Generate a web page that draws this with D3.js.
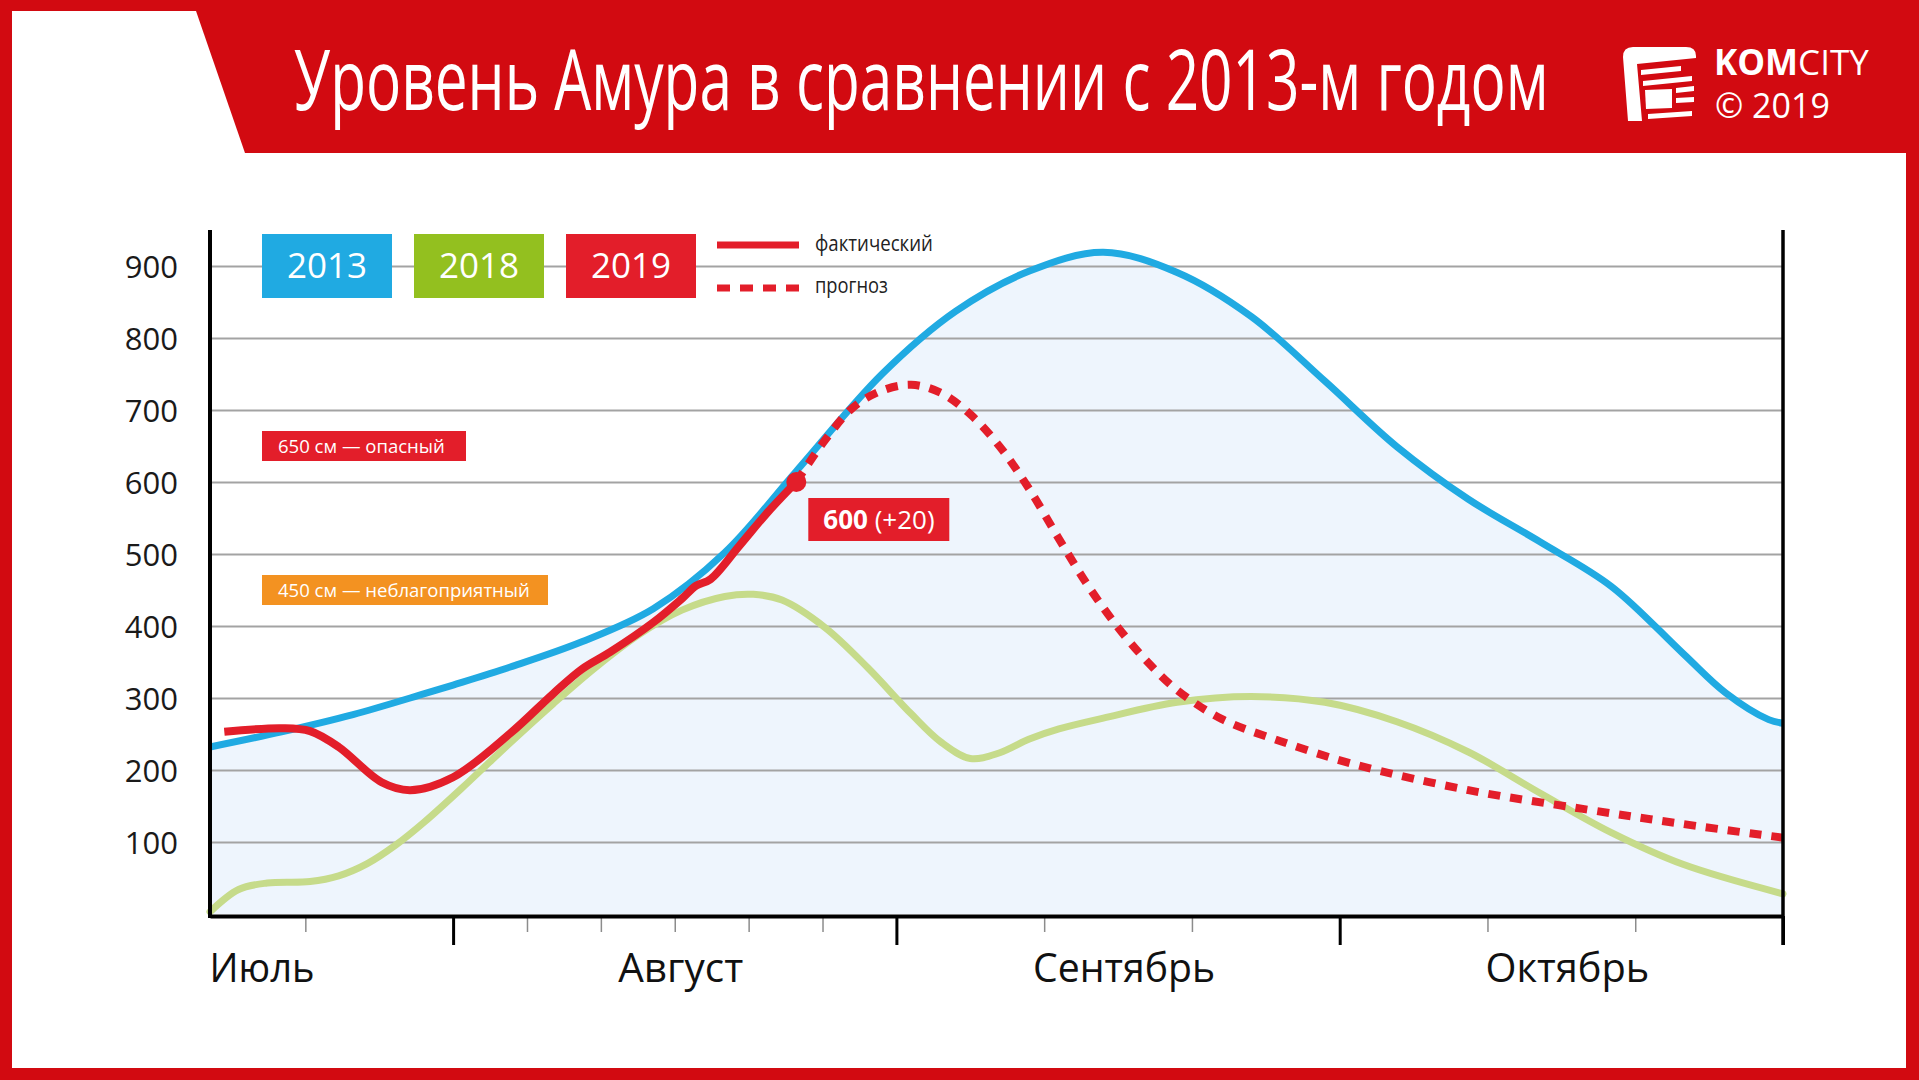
<!DOCTYPE html>
<html>
<head>
<meta charset="utf-8">
<title>Уровень Амура в сравнении с 2013-м годом</title>
<script src="https://d3js.org/d3.v7.min.js"></script>
<style>
  body { margin: 0; background: #fff; }
  svg text { font-family: "Open Sans", sans-serif; }
</style>
</head>
<body>
<svg id="chart" width="1919" height="1080"></svg>
<script>
// ---- data (dates are DD.MM, levels in cm) ----
var dates2013 = ["15.07","20.07","25.07","30.07","01.08","05.08","10.08","15.08","20.08","25.08","31.08",
                 "05.09","10.09","15.09","20.09","25.09","30.09","05.10","10.10","15.10","20.10","25.10","28.10","31.10","01.11"];
var level2013 = [232,253,277,306,318,343,378,424,502,615,750,
                 837,893,919,891,830,740,649,576,517,455,362,307,270,265];

var dates2018 = ["15.07","17.07","19.07","22.07","24.07","26.07","28.07","30.07","02.08","05.08","08.08","11.08","14.08","17.08","20.08","22.08","24.08","27.08","30.08",
                 "02.09","04.09","06.09","08.09","10.09","12.09","15.09","20.09","25.09","30.09","05.10","10.10","15.10","20.10","25.10","01.11"];
var level2018 = [3,34,43,45,53,70,96,128,182,238,292,343,388,422,441,444,436,398,342,
                 278,239,216,224,243,257,272,294,302,294,267,225,168,113,69,28];

var dates2019 = ["16.07","20.07","22.07","24.07","27.07","29.07","01.08","05.08","08.08","10.08","12.08","15.08","17.08","18.08","19.08","21.08","23.08","25.08"];
var level2019 = [253,258,254,232,183,172,190,251,306,340,364,405,438,456,465,511,558,600];

var datesForecast = ["25.08","27.08","29.08","31.08","02.09","04.09","06.09","08.09","10.09","12.09","14.09","16.09","18.09","20.09",
                     "23.09","27.09","02.10","10.10","18.10","25.10","01.11"];
var levelForecast = [600,658,704,727,735,724,694,649,590,521,455,398,350,311,
                     271,240,208,172,146,125,106];

var yTicks = [100,200,300,400,500,600,700,800,900];
var months = ["Июль","Август","Сентябрь","Октябрь"];
var minorTicks = [-1/3, 1/6, 2/6, 3/6, 4/6, 5/6, 1 + 1/3, 1 + 2/3, 2 + 1/3, 2 + 2/3]; // in month units from 1 Aug
var years = ["2013","2018","2019"];
var dangerLevels = [650, 450];
var dangerLabels = ["650 см — опасный", "450 см — неблагоприятный"];
var lastValue = "600", lastChange = "(+20)";

var RED = "#d20a11", BLUE = "#20aae2", GREEN = "#c6db8a", RED2 = "#e31e2a", ORANGE = "#f39221";

// month position: 0 = 1 Aug, 1 = 1 Sep, ... every month same width as on the picture
var monthDays = {7: 31, 8: 31, 9: 30, 10: 31, 11: 30};
function monthPos(s) {
  var p = s.split(".");
  var d = +p[0], m = +p[1];
  return (m - 8) + (d - 1) / monthDays[m];
}
function toPoints(ds, vs) { return ds.map((d, i) => [monthPos(d), vs[i]]); }

// narrow text: squeeze a text horizontally to the wanted width
function narrowText(parent, tx, ty, str, width, size, anchor) {
  var t = parent.append("g").attr("transform", `translate(${tx},${ty})`)
    .append("text").attr("font-size", size).attr("text-anchor", anchor || "start").text(str);
  var w = t.node().getComputedTextLength();
  t.attr("transform", `scale(${width / w},1)`);
  return t;
}

var svg = d3.select("#chart");

// ---- frame and header ----
svg.append("rect").attr("width", 1919).attr("height", 1080).attr("fill", RED);
svg.append("rect").attr("x", 12).attr("y", 11).attr("width", 1894).attr("height", 1057).attr("fill", "#fff");
svg.append("path").attr("d", "M196,11 L1906,11 L1906,153 L245,153 Z").attr("fill", RED);

narrowText(svg, 294, 110, "Уровень Амура в сравнении с 2013-м годом", 1255, 84).attr("fill", "#fff");

// logo
var logo = svg.append("g").attr("fill", "#fff");
logo.append("path").attr("d", "M1623,57 Q1623,47 1633,47 L1686,47 Q1696,47 1696,56 L1696,58 L1637,64 L1642,121 L1628,121 Z");
logo.append("path").attr("d", "M1641,70 L1681,66 L1681,71 L1641,75 Z");
logo.append("path").attr("d", "M1643,81 L1692,76 L1692,81 L1643,86 Z");
logo.append("path").attr("d", "M1645,90 L1672,89 L1672,108 L1646,109 Z");
logo.append("path").attr("d", "M1676,88 L1694,86 L1694,91 L1676,93 Z");
logo.append("path").attr("d", "M1676,98 L1694,97 L1694,102 L1676,103 Z");
logo.append("path").attr("d", "M1648,114 L1692,111 L1692,116 L1648,119 Z");
var kom = logo.append("text").attr("x", 1714).attr("y", 75).attr("font-size", 35);
kom.append("tspan").attr("font-weight", 700).text("KOM");
kom.append("tspan").text("CITY");
kom.append("tspan").attr("x", 1715).attr("y", 118).attr("font-size", 34).text("© 2019");

// ---- scales ----
var x = d3.scaleLinear().domain([monthPos("15.07"), monthPos("01.11")]).range([210, 1783]);
var y = d3.scaleLinear().domain([0, 900]).range([914, 266]);
var x0 = x.range()[0], x1 = x.range()[1];

var curve = d3.curveCatmullRom.alpha(0.5);
var line = d3.line().x(d => x(d[0])).y(d => y(d[1])).curve(curve);
var area = d3.area().x(d => x(d[0])).y0(y(0)).y1(d => y(d[1])).curve(curve);

var p2013 = toPoints(dates2013, level2013);
var p2018 = toPoints(dates2018, level2018);
var p2019 = toPoints(dates2019, level2019);
var pFc = toPoints(datesForecast, levelForecast);

// fill under 2013
svg.append("path").datum(p2013).attr("d", area).attr("fill", "#eef5fd");

// grid + y labels
svg.append("g").attr("transform", `translate(${x0},0)`)
  .call(d3.axisLeft(y).tickValues(yTicks).tickSize(-(x1 - x0)).tickPadding(32))
  .call(g => g.select(".domain").remove())
  .call(g => g.selectAll("line").attr("stroke", "#a3a3a3").attr("stroke-width", 2))
  .call(g => g.selectAll("text").attr("font-size", 31).attr("fill", "#1a1a1a")
    .attr("font-family", "Open Sans, sans-serif").attr("dy", "0.36em"));

// ---- series ----
svg.append("path").datum(p2018).attr("d", line)
  .attr("fill", "none").attr("stroke", GREEN).attr("stroke-width", 7).attr("stroke-linecap", "round");
svg.append("path").datum(p2013).attr("d", line)
  .attr("fill", "none").attr("stroke", BLUE).attr("stroke-width", 7);
svg.append("path").datum(pFc).attr("d", line)
  .attr("fill", "none").attr("stroke", RED2).attr("stroke-width", 8).attr("stroke-dasharray", "12,10");
svg.append("path").datum(p2019).attr("d", line)
  .attr("fill", "none").attr("stroke", RED2).attr("stroke-width", 8);

var last = p2019[p2019.length - 1];
svg.append("circle").attr("cx", x(last[0])).attr("cy", y(last[1])).attr("r", 10).attr("fill", RED2);

// last value label
var lx = x(last[0]) + 12, ly = y(last[1]) + 16;
svg.append("rect").attr("x", lx).attr("y", ly).attr("width", 141).attr("height", 43).attr("fill", RED2);
var lt = svg.append("text").attr("x", lx + 15).attr("y", ly + 31).attr("font-size", 26).attr("fill", "#fff");
lt.append("tspan").attr("font-weight", 700).text(lastValue + " ");
lt.append("tspan").text(lastChange);

// ---- axes frame ----
svg.append("line").attr("x1", x0).attr("x2", x0).attr("y1", y(950)).attr("y2", y(0) + 4)
  .attr("stroke", "#000").attr("stroke-width", 4);
svg.append("line").attr("x1", x1).attr("x2", x1).attr("y1", y(950)).attr("y2", 945)
  .attr("stroke", "#000").attr("stroke-width", 3.5);

svg.append("g").attr("transform", `translate(0,${y(0) + 2})`)
  .call(d3.axisBottom(x).tickValues(minorTicks).tickSize(16).tickSizeOuter(0).tickFormat(""))
  .call(g => g.select(".domain").remove())
  .call(g => g.selectAll("line").attr("stroke", "#8c8c8c").attr("stroke-width", 1.5));

svg.append("g").attr("transform", `translate(0,${y(0) + 2})`)
  .call(d3.axisBottom(x).tickValues([0, 1, 2, 3]).tickSize(29).tickSizeOuter(0).tickFormat(""))
  .call(g => g.select(".domain").attr("stroke", "#000").attr("stroke-width", 4))
  .call(g => g.selectAll("line").attr("stroke", "#000").attr("stroke-width", 3));

// month labels
var monthWidths = [105, 125, 182, 164];
var mg = svg.append("g").attr("fill", "#111");
months.forEach((m, i) => {
  narrowText(mg, i === 0 ? x0 + 52 : x(i - 0.5) + 6, 982, m, monthWidths[i], 41, "middle");
});

// ---- danger level labels ----
var dg = svg.append("g");
dangerLevels.forEach((v, i) => {
  dg.append("rect").attr("x", 262).attr("y", y(v) - 15)
    .attr("width", i === 0 ? 204 : 286).attr("height", 30)
    .attr("fill", i === 0 ? RED2 : ORANGE);
  narrowText(dg, 278, y(v) + 7, dangerLabels[i], i === 0 ? 167 : 252, 19).attr("fill", "#fff");
});

// ---- legend ----
var legColors = [BLUE, "#93c01f", RED2];
var lg = svg.append("g").selectAll("g").data(years).join("g")
  .attr("transform", (d, i) => `translate(${262 + i * 152},234)`);
lg.append("rect").attr("width", 130).attr("height", 64).attr("fill", (d, i) => legColors[i]);
lg.append("text").attr("x", 65).attr("y", 44).attr("text-anchor", "middle")
  .attr("font-size", 35).attr("fill", "#fff").text(d => d);

svg.append("line").attr("x1", 717).attr("x2", 799).attr("y1", 245).attr("y2", 245)
  .attr("stroke", RED2).attr("stroke-width", 7);
svg.append("line").attr("x1", 717).attr("x2", 799).attr("y1", 288).attr("y2", 288)
  .attr("stroke", RED2).attr("stroke-width", 7).attr("stroke-dasharray", "13,10");
var lgt = svg.append("g").attr("fill", "#222");
narrowText(lgt, 815, 251, "фактический", 118, 22);
narrowText(lgt, 815, 293, "прогноз", 73, 22);
</script>
</body>
</html>
